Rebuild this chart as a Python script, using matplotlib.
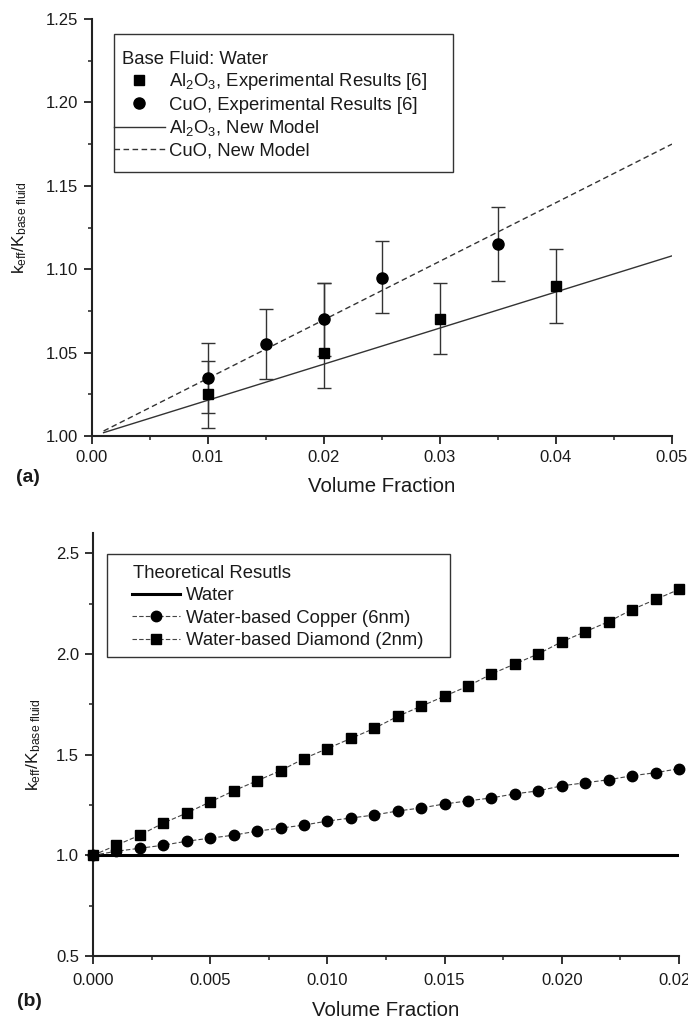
import matplotlib
matplotlib.use("Agg")
import matplotlib.pyplot as plt
from matplotlib.patches import Rectangle
from matplotlib.ticker import MultipleLocator, FormatStrFormatter

plt.rcParams['font.family'] = ['Liberation Sans', 'DejaVu Sans']
plt.rcParams['mathtext.fontset'] = 'custom'
plt.rcParams['mathtext.rm'] = 'Liberation Sans'
plt.rcParams['mathtext.it'] = 'Liberation Sans:italic'
plt.rcParams['mathtext.default'] = 'regular'

# ---------------- Panel (a) data ----------------
al_x = [0.01, 0.02, 0.03, 0.04]
al_y = [1.025, 1.050, 1.070, 1.090]
al_lo = [1.005, 1.029, 1.049, 1.068]
al_hi = [1.045, 1.092, 1.092, 1.112]

cu_x = [0.01, 0.015, 0.02, 0.025, 0.035]
cu_y = [1.035, 1.055, 1.070, 1.095, 1.115]
cu_lo = [1.014, 1.034, 1.048, 1.074, 1.093]
cu_hi = [1.056, 1.076, 1.092, 1.117, 1.137]

model_x = [0.001, 0.05]
al_model_y = [1.002, 1.108]
cu_model_y = [1.003, 1.175]

# ---------------- Panel (b) data ----------------
vf_b = [0.000, 0.001, 0.002, 0.003, 0.004, 0.005, 0.006, 0.007, 0.008, 0.009,
        0.010, 0.011, 0.012, 0.013, 0.014, 0.015, 0.016, 0.017, 0.018, 0.019,
        0.020, 0.021, 0.022, 0.023, 0.024, 0.025]
copper_y = [1.00, 1.02, 1.035, 1.05, 1.07, 1.085, 1.10, 1.12, 1.135, 1.15,
            1.17, 1.185, 1.20, 1.22, 1.235, 1.255, 1.27, 1.285, 1.305, 1.32,
            1.345, 1.36, 1.375, 1.395, 1.41, 1.43]
diamond_y = [1.00, 1.05, 1.10, 1.16, 1.21, 1.265, 1.32, 1.37, 1.42, 1.48,
             1.53, 1.58, 1.63, 1.69, 1.74, 1.79, 1.84, 1.90, 1.95, 2.00,
             2.06, 2.11, 2.16, 2.22, 2.27, 2.32]
water_x = [0.0, 0.025]
water_y = [1.0, 1.0]

W, H = 688, 1021
TXT = '#1a1a1a'
LEG_FS = 13.3
fig = plt.figure(figsize=(W / 100, H / 100), dpi=100)


def fx(px):
    return px / W


def fy(py):
    return 1 - py / H


axA = fig.add_axes([fx(92), fy(436), 580 / W, 417 / H])
axB = fig.add_axes([fx(93), fy(956), 586 / W, 423 / H])

for ax in (axA, axB):
    for s in ('top', 'right'):
        ax.spines[s].set_visible(False)
    for s in ('left', 'bottom'):
        ax.spines[s].set_linewidth(1.5)
        ax.spines[s].set_color('#222')
    ax.tick_params(which='major', direction='out', length=6, width=1.3,
                   colors='#222', labelsize=12, labelcolor=TXT, pad=4)
    ax.tick_params(which='minor', direction='out', length=3, width=1.1,
                   colors='#222')

# ---------------- Panel (a) ----------------
ax = axA
ax.set_xlim(0, 0.05)
ax.set_ylim(1.0, 1.25)
ax.xaxis.set_major_locator(MultipleLocator(0.01))
ax.xaxis.set_minor_locator(MultipleLocator(0.005))
ax.yaxis.set_major_locator(MultipleLocator(0.05))
ax.yaxis.set_minor_locator(MultipleLocator(0.025))
ax.xaxis.set_major_formatter(FormatStrFormatter('%.2f'))
ax.yaxis.set_major_formatter(FormatStrFormatter('%.2f'))

l_al_model, = ax.plot(model_x, al_model_y, color='#333', lw=1.0)
l_cu_model, = ax.plot(model_x, cu_model_y, color='#333', lw=1.0,
                      ls=(0, (4, 2.5)))

al_err = [[y - lo for y, lo in zip(al_y, al_lo)],
          [hi - y for y, hi in zip(al_y, al_hi)]]
cu_err = [[y - lo for y, lo in zip(cu_y, cu_lo)],
          [hi - y for y, hi in zip(cu_y, cu_hi)]]
ax.errorbar(al_x, al_y, yerr=al_err, fmt='none', ecolor='#333',
            elinewidth=1.0, capsize=5, capthick=1.0)
ax.errorbar(cu_x, cu_y, yerr=cu_err, fmt='none', ecolor='#333',
            elinewidth=1.0, capsize=5, capthick=1.0)
l_al, = ax.plot(al_x, al_y, 's', color='black', ms=7.5, ls='none')
l_cu, = ax.plot(cu_x, cu_y, 'o', color='black', ms=8, ls='none')

ax.set_xlabel('Volume Fraction', fontsize=14.7, color=TXT)
ax.xaxis.set_label_coords(0.5, (436 - 487) / 417)
ax.xaxis.label.set_va('center')
ax.set_ylabel(r'k$_{eff}$/K$_{base\ fluid}$', fontsize=12.5, color=TXT)
ax.yaxis.set_label_coords((20 - 92) / 580, 0.5)
ax.yaxis.label.set_va('center')

fig.add_artist(Rectangle((fx(114), fy(172)), 339 / W, 138 / H,
                         transform=fig.transFigure, fill=False,
                         edgecolor='#333', lw=1.0))
fig.text(fx(122), fy(60), 'Base Fluid: Water', fontsize=LEG_FS, color=TXT,
         ha='left', va='center')
ax.legend([l_al, l_cu, l_al_model, l_cu_model],
          [r'Al$_2$O$_3$, Experimental Results [6]',
           'CuO, Experimental Results [6]',
           r'Al$_2$O$_3$, New Model',
           'CuO, New Model'],
          loc='upper left', bbox_to_anchor=(fx(114), fy(71)),
          bbox_transform=fig.transFigure, frameon=False, borderpad=0,
          borderaxespad=0, fontsize=LEG_FS, handlelength=2.75,
          handletextpad=0.22, labelspacing=0.25, labelcolor=TXT)

fig.text(fx(28), fy(477), '(a)', fontsize=14, fontweight='bold',
         color=TXT, ha='center', va='center')

# ---------------- Panel (b) ----------------
ax = axB
ax.set_xlim(0, 0.025)
ax.set_ylim(0.5, 2.6)
ax.xaxis.set_major_locator(MultipleLocator(0.005))
ax.xaxis.set_minor_locator(MultipleLocator(0.0025))
ax.yaxis.set_major_locator(MultipleLocator(0.5))
ax.yaxis.set_minor_locator(MultipleLocator(0.25))
ax.xaxis.set_major_formatter(FormatStrFormatter('%.3f'))
ax.yaxis.set_major_formatter(FormatStrFormatter('%.1f'))
ax.tick_params(axis='x', which='major', pad=6)

l_water, = ax.plot(water_x, water_y, color='black', lw=2.2, zorder=3)
l_copper, = ax.plot(vf_b, copper_y, color='#444', lw=0.8, ls=(0, (4, 2)),
                    marker='o', ms=7.5, mfc='black', mec='black',
                    clip_on=False, zorder=4)
l_diamond, = ax.plot(vf_b, diamond_y, color='#444', lw=0.8, ls=(0, (4, 2)),
                     marker='s', ms=7.5, mfc='black', mec='black',
                     clip_on=False, zorder=4)

ax.set_xlabel('Volume Fraction', fontsize=14.7, color=TXT)
ax.xaxis.set_label_coords(0.5, (956 - 1010) / 423)
ax.xaxis.label.set_va('center')
ax.set_ylabel(r'k$_{eff}$/K$_{base\ fluid}$', fontsize=12.5, color=TXT)
ax.yaxis.set_label_coords((34 - 93) / 586, 0.5)
ax.yaxis.label.set_va('center')

fig.add_artist(Rectangle((fx(107), fy(657)), 343 / W, 103 / H,
                         transform=fig.transFigure, fill=False,
                         edgecolor='#333', lw=1.0))
fig.text(fx(133), fy(574), 'Theoretical Resutls', fontsize=LEG_FS, color=TXT,
         ha='left', va='center')
ax.legend([l_water, l_copper, l_diamond],
          ['Water', 'Water-based Copper (6nm)', 'Water-based Diamond (2nm)'],
          loc='upper left', bbox_to_anchor=(fx(132), fy(587)),
          bbox_transform=fig.transFigure, frameon=False, borderpad=0,
          borderaxespad=0, fontsize=LEG_FS, handlelength=2.6,
          handletextpad=0.3, labelspacing=0.3, labelcolor=TXT)

fig.text(fx(29), fy(1001), '(b)', fontsize=14, fontweight='bold',
         color=TXT, ha='center', va='center')

fig.savefig('out.png', dpi=100, facecolor='white')
